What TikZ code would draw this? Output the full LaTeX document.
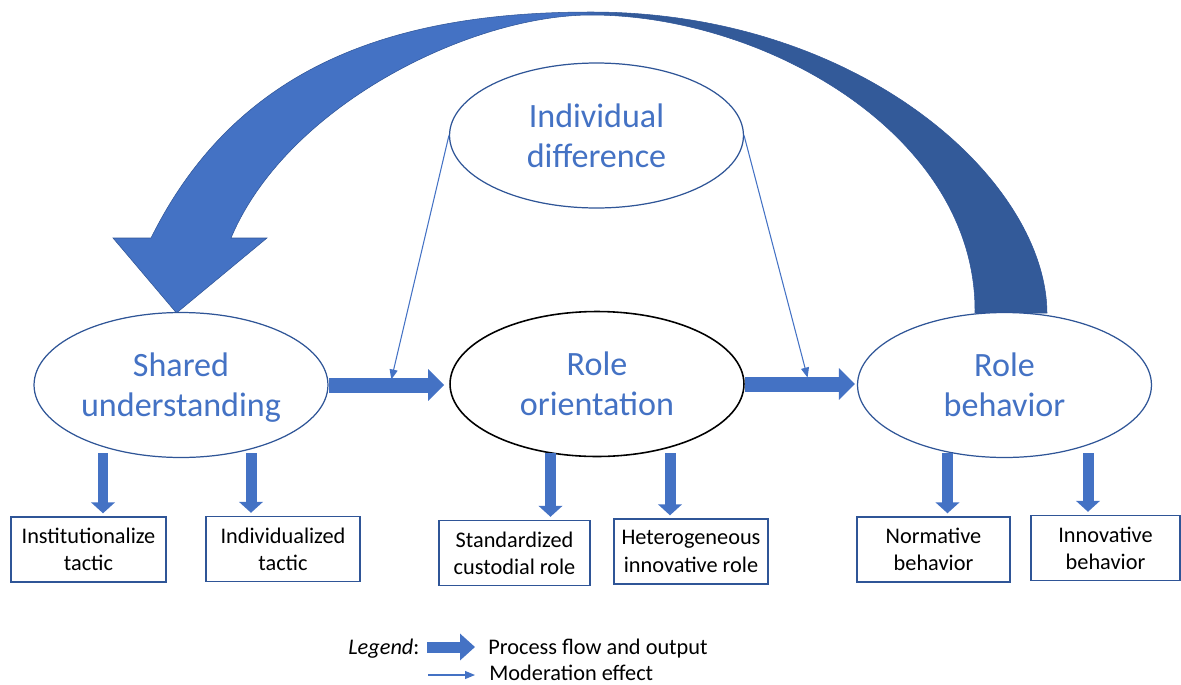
\documentclass[tikz,border=0pt]{standalone}
\usepackage{fontspec}
\setmainfont{Carlito}
\usetikzlibrary{arrows.meta,calc,shapes.geometric}
\definecolor{arclight}{HTML}{4472C4}
\definecolor{arcdark}{HTML}{335A99}
\definecolor{rimblue}{HTML}{2F5597}

\begin{document}
\begin{tikzpicture}[x=0.02cm,y=-0.02cm,
    factor/.style={draw=rimblue,line width=0.7pt,ellipse,fill=white,minimum width=5.88cm,minimum height=2.9cm,inner sep=0pt,align=center,text depth=0pt,text=arclight,font=\fontsize{19.4}{22.8}\selectfont},
    outcome/.style={draw=rimblue,line width=0.8pt,rectangle,minimum height=1.3cm,inner sep=0pt,align=center,font=\fontsize{12.7}{15.5}\selectfont},
    legtext/.style={anchor=base west,inner sep=0pt,font=\fontsize{12.7}{15.5}\selectfont},
    flow/.style={arclight,line width=0.3cm,-{Triangle[length=0.32cm,width=0.62cm]}},
    outflow/.style={arclight,line width=0.22cm,-{Triangle[length=0.22cm,width=0.47cm]},shorten >=0.06cm},
    moderate/.style={arclight,line width=0.6pt,-{Triangle[length=0.2cm,width=0.16cm]}}]
    \useasboundingbox (0,0) rectangle (1181,684);
    %% Feedback arc
    \path[draw=rimblue,line width=0.3pt,path picture={
        \fill[arclight] (100,0) rectangle (565,320);
        \shade[left color=arclight,right color=arcdark] (565,0) rectangle (625,320);
        \fill[arcdark] (625,0) rectangle (1060,320);
      }] (1047,313) .. controls (1046,180) and (860,12) .. (591,12) .. controls (391,12) and (236,67) .. (151,238) -- (113,238) -- (176.5,313) -- (267,238) -- (231,238) .. controls (287,105) and (471,15) .. (591,15) .. controls (765,15) and (977,135) .. (975,313) -- cycle;
    %% Ellipses
    \node[factor] (su) at (181,385) {Shared\\understanding};
    \node[factor,draw=black,line width=0.9pt] (ro) at (597,384) {Role\\orientation};
    \node[factor] (rb) at (1004.5,385) {Role\\behavior};
    \node[factor] (id) at (596.5,135.5) {Individual\\difference};
    %% Outputs
    \node[outcome,minimum width=3.1cm] (inst) at (88.5,549.5) {Institutionalize\\tactic};
    \node[outcome,minimum width=3.08cm] (indiv) at (283,549) {Individualized\\tactic};
    \node[outcome,minimum width=3.02cm] (stand) at (514.5,553) {Standardized\\custodial role};
    \node[outcome,minimum width=3.08cm] (hetero) at (691,551.5) {Heterogeneous\\innovative role};
    \node[outcome,minimum width=3.06cm] (norm) at (933.5,549.5) {Normative\\behavior};
    \node[outcome,minimum width=2.98cm] (innov) at (1105.5,548) {Innovative\\behavior};
    %% Process flow
    \draw[flow,shorten >=0.1cm] (su.east) -- (su.east -| ro.west);
    \draw[flow,shorten >=0.04cm] (ro.east) -- (ro.east -| rb.west);
    %% Down arrows
    \coordinate (d1) at ($(su.center)+(-78,68)$);
    \coordinate (d2) at ($(su.center)+(70,68)$);
    \coordinate (d3) at ($(ro.center)+(-46.5,69)$);
    \coordinate (d4) at ($(ro.center)+(73,69)$);
    \coordinate (d5) at ($(rb.center)+(-57,68)$);
    \coordinate (d6) at ($(rb.center)+(83.5,68)$);
    \draw[outflow] (d1) -- (d1 |- inst.north);
    \draw[outflow] (d2) -- (d2 |- indiv.north);
    \draw[outflow] (d3) -- (d3 |- stand.north);
    \draw[outflow] (d4) -- (d4 |- hetero.north);
    \draw[outflow] (d5) -- (d5 |- norm.north);
    \draw[outflow] (d6) -- (d6 |- innov.north);
    %% Moderation
    \coordinate (m1) at ($(su.east)!0.52!(ro.west)+(0,-5)$);
    \coordinate (m2) at ($(ro.east)!0.56!(rb.west)+(0,-7)$);
    \draw[moderate] (id.west) -- (m1);
    \draw[moderate] (id.east) -- (m2);
    %% Legend
    \node[legtext] (leg) at (348,654) {\textit{Legend}:};
    \node[legtext] (pf) at (488,654) {Process flow and output};
    \node[legtext] (me) at (489,680) {Moderation effect};
    \coordinate (lf) at (427,647);
    \coordinate (lm) at (428,675);
    \draw[arclight,line width=0.22cm,-{Triangle[length=0.3cm,width=0.52cm]},shorten >=0.26cm] (lf) -- (lf -| pf.west);
    \draw[moderate,shorten >=0.28cm] (lm) -- (lm -| me.west);
\end{tikzpicture}
\end{document}
